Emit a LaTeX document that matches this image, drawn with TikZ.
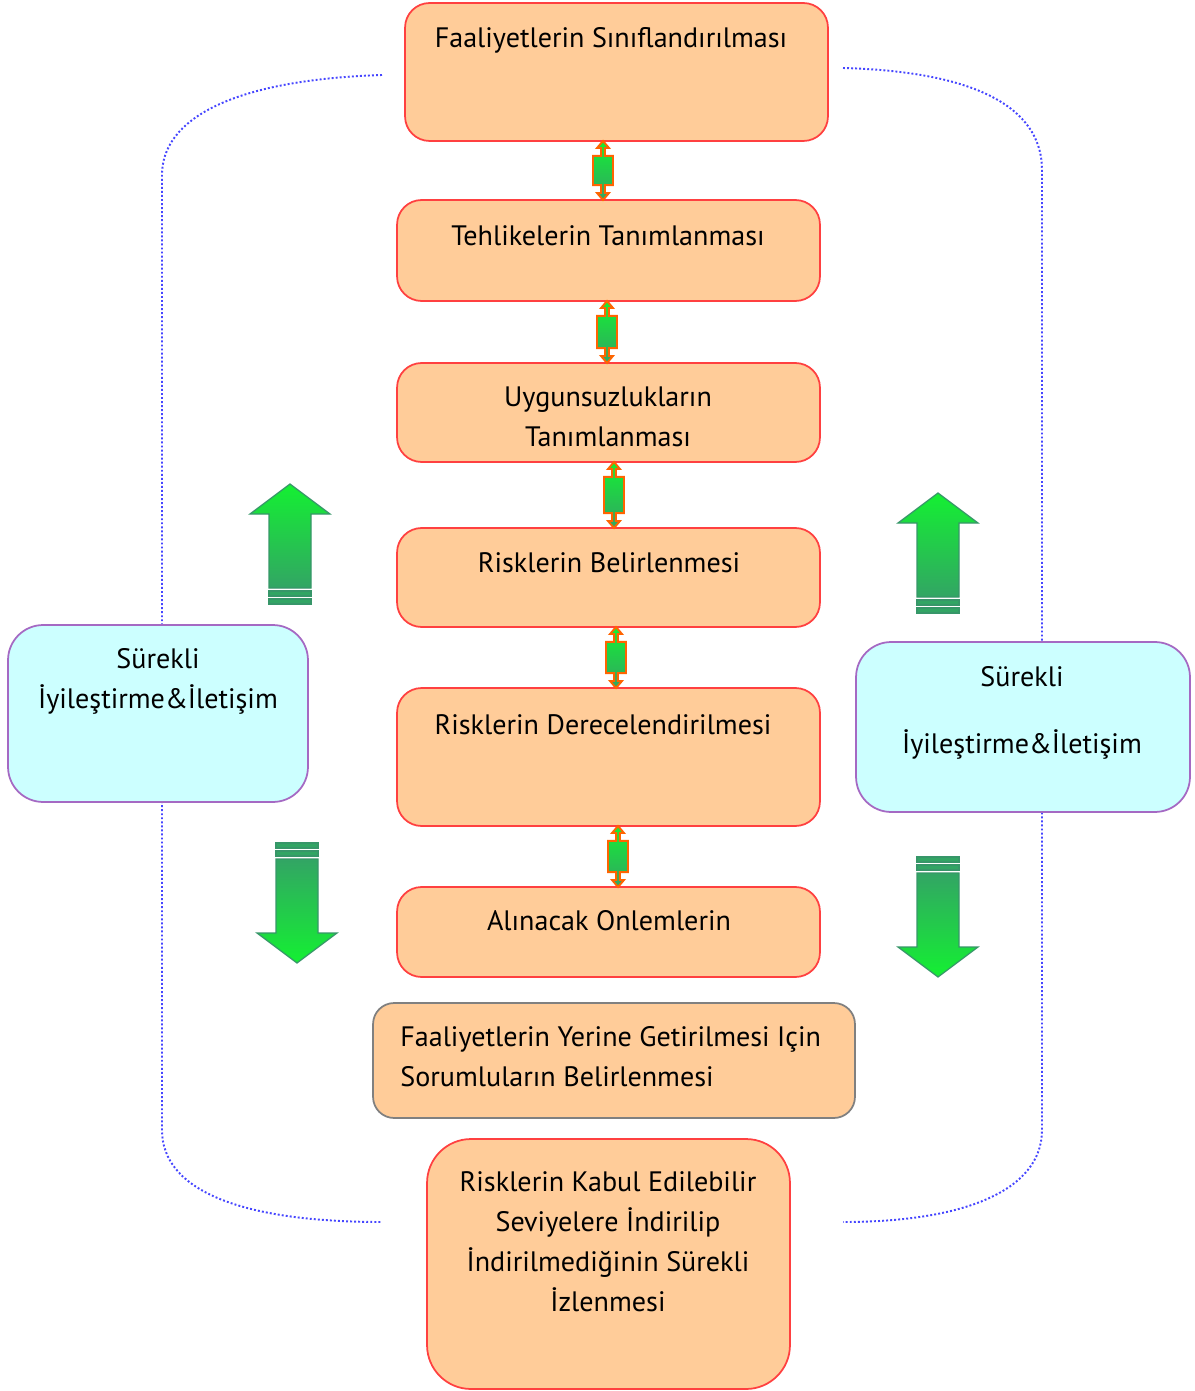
\documentclass[tikz,border=0pt]{standalone}
\usepackage{fontspec}
\setmainfont{PT Sans}
\usetikzlibrary{calc}

\definecolor{peach}{RGB}{255,204,153}
\definecolor{boxred}{RGB}{255,64,64}
\definecolor{palecyan}{RGB}{204,255,255}
\definecolor{lilac}{RGB}{165,105,195}
\definecolor{loopblue}{RGB}{70,70,255}
\definecolor{brightgreen}{RGB}{20,240,50}
\definecolor{darkgreen}{RGB}{50,165,100}
\definecolor{edgegreen}{RGB}{55,150,105}
\definecolor{linkorange}{RGB}{255,100,0}

\tikzset{
  stepbox/.style={draw=boxred, fill=peach, line width=1pt, rounded corners=14pt, inner sep=0pt, outer sep=0pt},
  loopbox/.style={draw=lilac, fill=palecyan, line width=1pt, rounded corners=20pt, inner sep=0pt, outer sep=0pt},
  txt/.style={font=\fontsize{16}{22.8}\selectfont, align=center, inner sep=0pt},
  loopline/.style={draw=loopblue, line width=1.1pt, dash pattern=on 1.1pt off 1.2pt},
  linkarrow/.style={draw=linkorange, line width=1.1pt, top color=brightgreen, bottom color=darkgreen},
  bigarrow/.style={draw=edgegreen, line width=0.7pt}
}

% small double arrow between two boxes: from, to, x offset (px)
\newcommand\linkarrow[3]{%
  \draw[linkarrow] let \p1=(#1.south), \p2=(#2.north), \n1={\x1+#3*0.569pt} in
    (\n1,\y1) -- (\n1+3.4pt,\y1-4pt) -- (\n1+1.1pt,\y1-4pt) -- (\n1+1.1pt,\y1-8.5pt)
    -- (\n1+5.7pt,\y1-8.5pt) -- (\n1+5.7pt,\y2+8.5pt) -- (\n1+1.1pt,\y2+8.5pt)
    -- (\n1+1.1pt,\y2+4pt) -- (\n1+3.4pt,\y2+4pt) -- (\n1,\y2) -- (\n1-3.4pt,\y2+4pt)
    -- (\n1-1.1pt,\y2+4pt) -- (\n1-1.1pt,\y2+8.5pt) -- (\n1-5.7pt,\y2+8.5pt)
    -- (\n1-5.7pt,\y1-8.5pt) -- (\n1-1.1pt,\y1-8.5pt) -- (\n1-1.1pt,\y1-4pt)
    -- (\n1-3.4pt,\y1-4pt) -- cycle;}

% big arrow: centre x, tip y, direction (1 = up, -1 = down), shading
\newcommand\bigarrow[4]{%
  \draw[bigarrow, #4] ({#1},{#2}) -- ({#1+40},{#2+(#3)*30}) -- ({#1+21},{#2+(#3)*30})
    -- ({#1+21},{#2+(#3)*104}) -- ({#1-21},{#2+(#3)*104}) -- ({#1-21},{#2+(#3)*30})
    -- ({#1-40},{#2+(#3)*30}) -- cycle;
  \draw[bigarrow, fill=darkgreen] ({#1-21},{#2+(#3)*107}) rectangle ({#1+21},{#2+(#3)*112});
  \draw[bigarrow, fill=darkgreen] ({#1-21},{#2+(#3)*115}) rectangle ({#1+21},{#2+(#3)*120});}

\begin{document}
\begin{tikzpicture}[x=0.02cm, y=-0.02cm]
    \useasboundingbox (0,0) rectangle (1195,1391);

    % dotted loop behind everything
    \draw[loopline] (382,75) .. controls (230,80) and (162,120) .. (162,175) -- (162,1130)
        .. controls (162,1190) and (240,1222) .. (382,1222);
    \draw[loopline] (843,68) .. controls (990,72) and (1042,115) .. (1042,170) -- (1042,1130)
        .. controls (1042,1190) and (965,1222) .. (843,1222);

    % main steps
    \node[stepbox, minimum width=8.46cm, minimum height=2.76cm] (siniflandirma) at (616.5,72) {};
    \node[stepbox, minimum width=8.46cm, minimum height=2.02cm] (tehlike) at (608.5,250.5) {};
    \node[stepbox, minimum width=8.46cm, minimum height=1.98cm] (uygunsuz) at (608.5,412.5) {};
    \node[stepbox, minimum width=8.46cm, minimum height=1.98cm] (riskbelir) at (608.5,577.5) {};
    \node[stepbox, minimum width=8.46cm, minimum height=2.76cm] (riskdere) at (608.5,757) {};
    \node[stepbox, minimum width=8.46cm, minimum height=1.8cm] (onlem) at (608.5,932) {};
    \node[stepbox, draw=gray, rounded corners=12pt, minimum width=9.64cm, minimum height=2.3cm] (sorumlu) at (614,1060.5) {};
    \node[stepbox, rounded corners=25pt, minimum width=7.26cm, minimum height=5cm] (izleme) at (608.5,1264) {};

    \node[txt] (t1) at (611,40) {Faaliyetlerin Sınıflandırılması};
    \node[txt] (t2) at (608,236) {Tehlikelerin Tanımlanması};
    \node[txt] (t3) at (608,417) {Uygunsuzlukların\\Tanımlanması};
    \node[txt] (t4) at (609,563) {Risklerin Belirlenmesi};
    \node[txt] (t5) at (603,725) {Risklerin Derecelendirilmesi};
    \node[txt] (t6) at (609,921) {Alınacak Onlemlerin};
    \node[txt, align=left, anchor=west] (t7) at (400,1057) {Faaliyetlerin Yerine Getirilmesi Için\\Sorumluların Belirlenmesi};
    \node[txt] (t8) at (608,1241.5) {Risklerin Kabul Edilebilir\\Seviyelere İndirilip\\İndirilmediğinin Sürekli\\İzlenmesi};

    % side boxes
    \node[loopbox, minimum width=6cm, minimum height=3.54cm] (surekliL) at (158,713.5) {};
    \node[loopbox, minimum width=6.68cm, minimum height=3.4cm] (surekliR) at (1023,727) {};
    \node[txt] (tL) at (158,681.5) {Sürekli\\İyileştirme\&İletişim};
    \node[txt] (tR) at (1022,712.5) {Sürekli\\[0.54cm]İyileştirme\&İletişim};

    % links between steps
    \linkarrow{siniflandirma}{tehlike}{-13.5}
    \linkarrow{tehlike}{uygunsuz}{-1.5}
    \linkarrow{uygunsuz}{riskbelir}{5.5}
    \linkarrow{riskbelir}{riskdere}{7.5}
    \linkarrow{riskdere}{onlem}{9.5}

    % big arrows
    \bigarrow{290}{484}{1}{top color=brightgreen, bottom color=darkgreen}
    \bigarrow{938}{493}{1}{top color=brightgreen, bottom color=darkgreen}
    \bigarrow{297}{963}{-1}{top color=darkgreen, bottom color=brightgreen}
    \bigarrow{938}{977}{-1}{top color=darkgreen, bottom color=brightgreen}
\end{tikzpicture}
\end{document}
